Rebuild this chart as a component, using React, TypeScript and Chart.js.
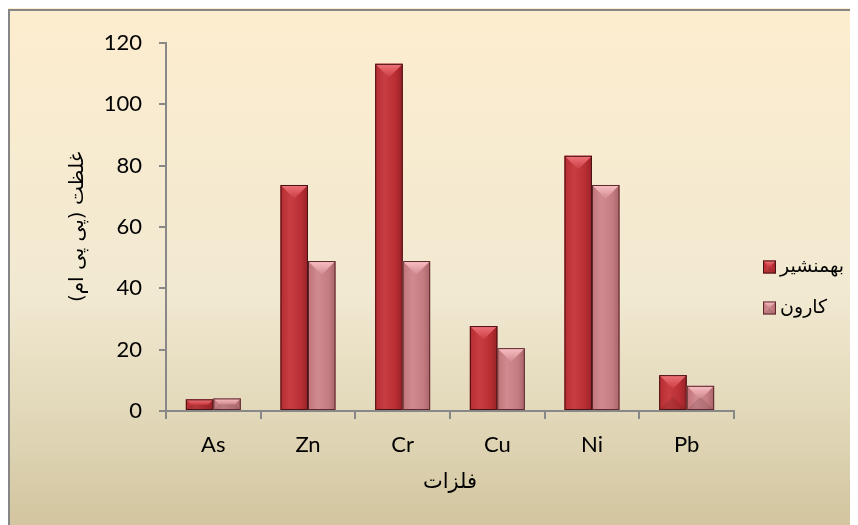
import React, { useEffect, useRef } from "react";
import { Chart, registerables } from "chart.js";

Chart.register(...registerables);

const categories = ["As", "Zn", "Cr", "Cu", "Ni", "Pb"];
const seriesLabels = ["بهمنشیر", "کارون"];
const bahmanshirValues = [3.8, 73.7, 113.2, 27.7, 83.2, 11.7];
const karunValues = [4.1, 48.9, 48.9, 20.5, 73.7, 8.2];
const yTicks = [0, 20, 40, 60, 80, 100, 120];
const xTitle = "فلزات";
const yTitle = "غلظت (پی پی ام)";

const W = 850;
const H = 517;

const palettes = [
  {
    base: "#B82E33",
    edgeL: "#B52C31",
    mid: "#C83D42",
    edgeR: "#962227",
    top: "#F0737A",
    border: "#4A1214",
  },
  {
    base: "#C47C81",
    edgeL: "#C07479",
    mid: "#D08B90",
    edgeR: "#A8646A",
    top: "#FAC0C5",
    border: "#5C2A2D",
  },
];

function drawBevelBar(
  ctx: CanvasRenderingContext2D,
  left: number,
  top: number,
  right: number,
  bottom: number,
  p: (typeof palettes)[0]
) {
  const w = right - left;
  const h = bottom - top;
  if (w <= 0 || h <= 0) return;
  const g = ctx.createLinearGradient(left, 0, right, 0);
  g.addColorStop(0, p.edgeL);
  g.addColorStop(0.35, p.mid);
  g.addColorStop(0.75, p.base);
  g.addColorStop(1, p.edgeR);
  ctx.fillStyle = g;
  ctx.fillRect(left, top, w, h);
  const d = Math.min(w / 2, h / 2);
  const tg = ctx.createLinearGradient(0, top, 0, top + d);
  tg.addColorStop(0, p.top);
  tg.addColorStop(1, p.mid);
  ctx.fillStyle = tg;
  ctx.beginPath();
  ctx.moveTo(left, top);
  ctx.lineTo(right, top);
  ctx.lineTo(right - d, top + d);
  ctx.lineTo(left + d, top + d);
  ctx.closePath();
  ctx.fill();
  if (h < w * 1.5) {
    ctx.fillStyle = "rgba(0,0,0,0.10)";
    ctx.beginPath();
    ctx.moveTo(left, bottom);
    ctx.lineTo(right, bottom);
    ctx.lineTo(right - d, bottom - d);
    ctx.lineTo(left + d, bottom - d);
    ctx.closePath();
    ctx.fill();
  }
  ctx.strokeStyle = p.border;
  ctx.lineWidth = 1;
  ctx.strokeRect(left + 0.5, top + 0.5, w - 1, h - 1);
}

const backgroundPlugin = {
  id: "bgFrame",
  beforeDraw(chart: any) {
    const ctx = chart.ctx as CanvasRenderingContext2D;
    ctx.save();
    const g = ctx.createLinearGradient(0, 0, 0, chart.height);
    g.addColorStop(0, "#FDEDCF");
    g.addColorStop(0.55, "#F1E9D1");
    g.addColorStop(0.8, "#E1D7B8");
    g.addColorStop(1, "#D2C59F");
    ctx.fillStyle = g;
    ctx.fillRect(0, 0, chart.width, chart.height);
    ctx.fillStyle = "#868686";
    ctx.fillRect(0, 1, 2, chart.height);
    ctx.fillRect(0, 1, chart.width, 2);
    ctx.restore();
  },
};

const bevelPlugin = {
  id: "bevelBars",
  afterDatasetsDraw(chart: any) {
    const ctx = chart.ctx as CanvasRenderingContext2D;
    ctx.save();
    chart.data.datasets.forEach((ds: any, di: number) => {
      const meta = chart.getDatasetMeta(di);
      if (meta.hidden) return;
      meta.data.forEach((el: any) => {
        const { x, y, base, width } = el.getProps(["x", "y", "base", "width"], true);
        drawBevelBar(ctx, x - width / 2, Math.min(y, base), x + width / 2, Math.max(y, base), palettes[di]);
      });
    });
    ctx.restore();
  },
};

const legendPlugin = {
  id: "sideLegend",
  afterDraw(chart: any) {
    const ctx = chart.ctx as CanvasRenderingContext2D;
    ctx.save();
    const boxX = 755;
    const textX = 772;
    const rows = [259, 300];
    chart.data.datasets.forEach((ds: any, di: number) => {
      const cy = rows[di];
      drawBevelBar(ctx, boxX, cy - 6.5, boxX + 13, cy + 6.5, palettes[di]);
      ctx.fillStyle = "#000000";
      ctx.font = "19px 'DejaVu Sans'";
      ctx.textAlign = "left";
      ctx.textBaseline = "middle";
      ctx.fillText(ds.label, textX, cy);
    });
    ctx.restore();
  },
};

export default function App() {
  const ref = useRef<HTMLCanvasElement | null>(null);

  useEffect(() => {
    document.documentElement.style.overflow = "hidden";
    document.body.style.overflow = "hidden";
    if (!ref.current) return;
    const axisGray = "#888888";
    const chart = new Chart(ref.current, {
      type: "bar",
      data: {
        labels: categories,
        datasets: [
          {
            label: seriesLabels[0],
            data: bahmanshirValues,
            backgroundColor: palettes[0].base,
            borderWidth: 0,
            barPercentage: 1,
            categoryPercentage: 0.58,
          },
          {
            label: seriesLabels[1],
            data: karunValues,
            backgroundColor: palettes[1].base,
            borderWidth: 0,
            barPercentage: 1,
            categoryPercentage: 0.58,
          },
        ],
      },
      options: {
        responsive: false,
        animation: false,
        layout: { padding: { top: 35, left: 40, right: 124, bottom: 20 } },
        plugins: {
          legend: { display: false },
          tooltip: { enabled: false },
        },
        scales: {
          x: {
            grid: {
              display: true,
              offset: true,
              drawOnChartArea: false,
              drawTicks: true,
              tickLength: 8,
              color: axisGray,
              lineWidth: 2,
            },
            border: { display: true, color: axisGray, width: 2 },
            ticks: {
              color: "#000000",
              font: { family: "Lato, 'DejaVu Sans'", size: 22 },
              padding: 13,
            },
            title: {
              display: true,
              text: xTitle,
              color: "#000000",
              font: { family: "'DejaVu Sans'", size: 21 },
              padding: { top: 0, bottom: 10 },
            },
            afterFit: (s: any) => {
              s.height = 94;
            },
          },
          y: {
            min: 0,
            max: 120,
            afterBuildTicks: (s: any) => {
              s.ticks = yTicks.map((v) => ({ value: v }));
            },
            grid: {
              display: true,
              drawOnChartArea: false,
              drawTicks: true,
              tickLength: 7,
              color: axisGray,
              lineWidth: 2,
            },
            border: { display: true, color: axisGray, width: 2 },
            ticks: {
              color: "#000000",
              font: { family: "Lato, 'DejaVu Sans'", size: 22 },
              padding: 17,
            },
            title: {
              display: true,
              text: yTitle + "\u200F",
              color: "#000000",
              font: { family: "'DejaVu Sans'", size: 20 },
              padding: { top: 18, bottom: 0 },
            },
            afterFit: (s: any) => {
              s.width = 118;
            },
          },
        },
      },
      plugins: [backgroundPlugin, bevelPlugin, legendPlugin],
    });
    return () => chart.destroy();
  }, []);

  return (
    <div style={{ width: W, height: H }}>
      <canvas ref={ref} width={W} height={H} style={{ display: "block", width: W, height: H }} />
    </div>
  );
}
